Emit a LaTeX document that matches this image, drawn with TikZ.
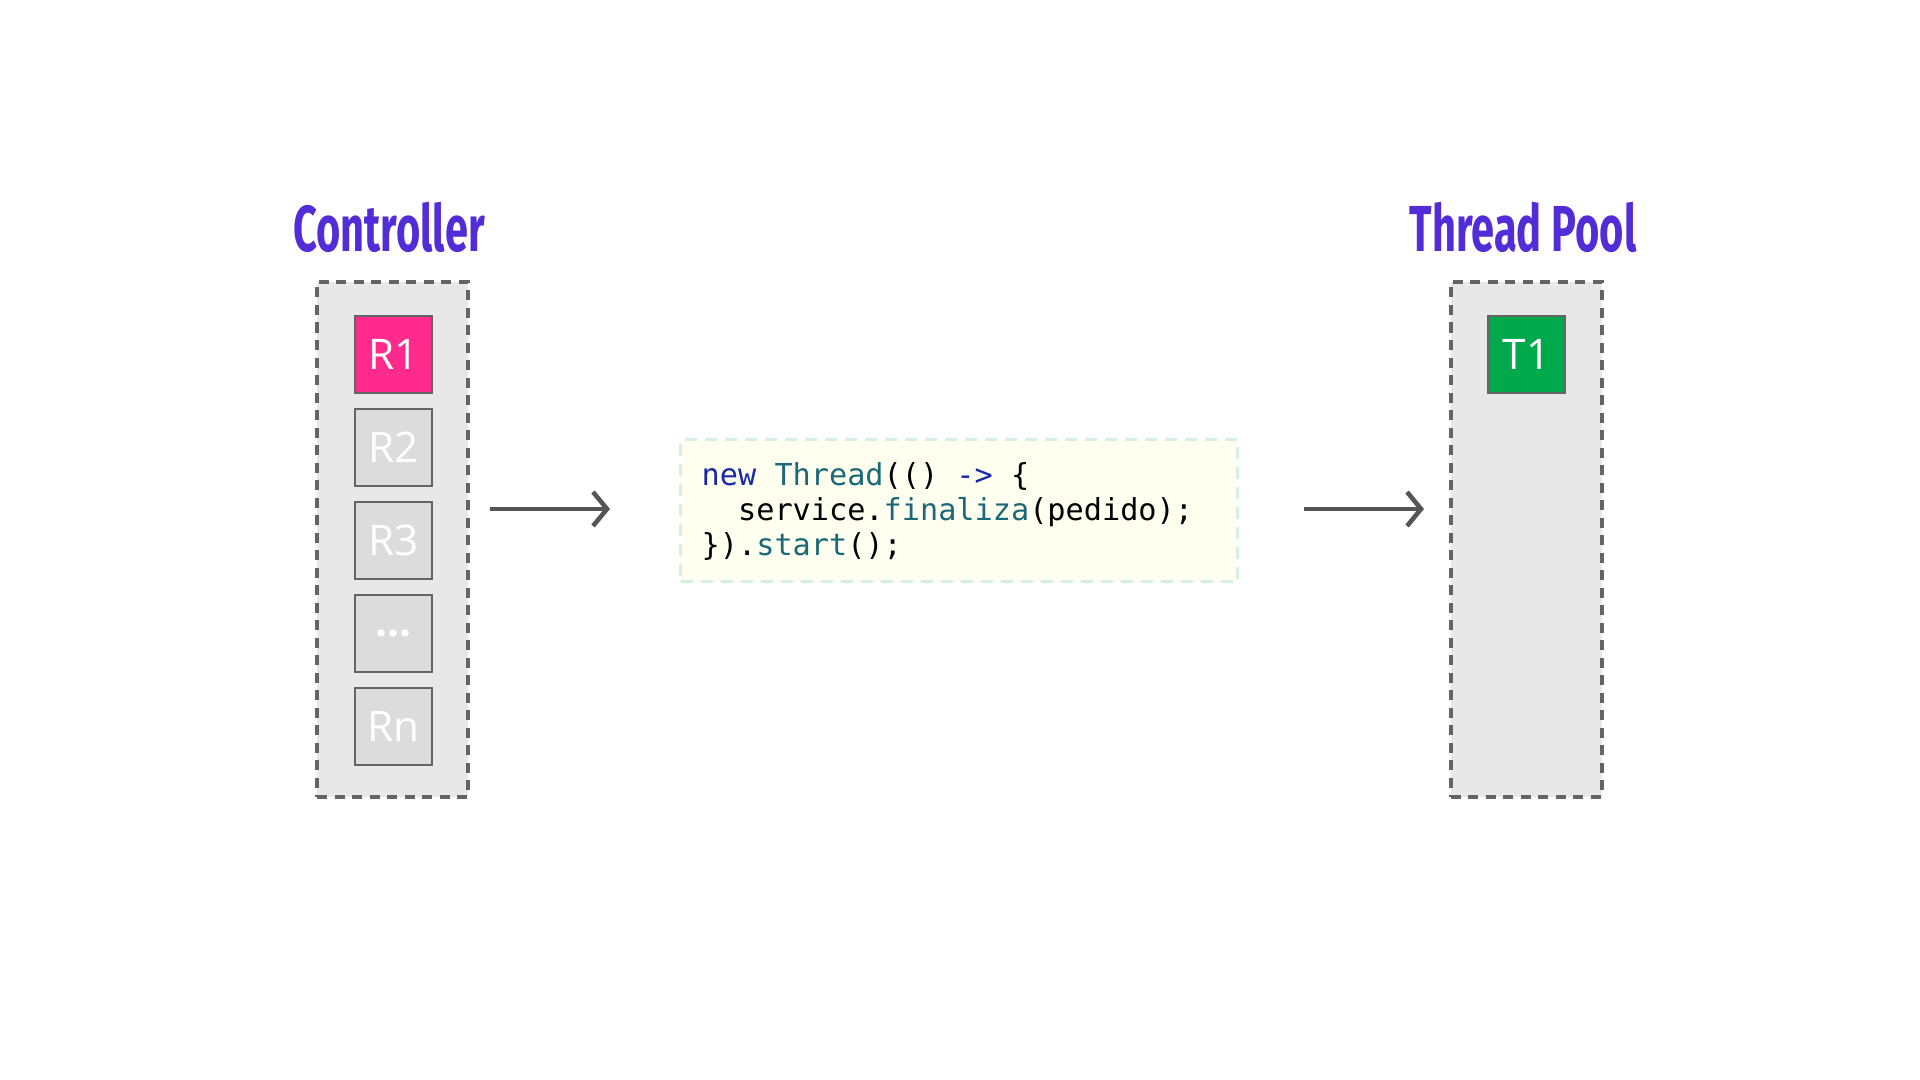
\documentclass[tikz,border=0pt]{standalone}
\usepackage{fontspec}
\setsansfont{Open Sans}
\setmonofont{DejaVu Sans Mono}
\newfontfamily\titlefont[FakeStretch=0.64]{Fira Sans}
\usepackage{tikz}
\usetikzlibrary{arrows.meta,positioning}
\definecolor{titlepurple}{RGB}{82,44,214}
\definecolor{poolgray}{RGB}{232,232,232}
\definecolor{dashgray}{RGB}{100,100,100}
\definecolor{reqgray}{RGB}{220,220,220}
\definecolor{reqpink}{RGB}{255,42,140}
\definecolor{thrgreen}{RGB}{0,170,76}
\definecolor{codefill}{RGB}{255,255,240}
\definecolor{codeborder}{RGB}{212,239,227}
\definecolor{kwblue}{RGB}{24,40,168}
\definecolor{fnteal}{RGB}{28,104,120}
\definecolor{arrowgray}{RGB}{85,85,85}
\begin{document}
\begin{tikzpicture}[
    pool/.style={draw=dashgray, fill=poolgray, line width=1.15pt,
        dash pattern=on 0.10cm off 0.075cm, minimum width=1.51cm, minimum height=5.15cm},
    req/.style={draw=dashgray, fill=reqgray, line width=0.7pt, minimum size=0.77cm,
        inner sep=0pt, text=white, font=\sffamily\fontsize{12}{12}\selectfont},
    title/.style={text=titlepurple, font=\titlefont\bfseries\fontsize{18.5}{19}\selectfont,
        anchor=base, inner sep=0pt},
    flow/.style={draw=arrowgray, line width=1.15pt, -{Straight Barb[length=0.14cm,width=0.34cm,line width=1.3pt]}},
    node distance=0.135cm
]
    \useasboundingbox (0,0) rectangle (19.2,10.8);
    % titles
    \node[title] (ctrltitle) at (3.89,8.28) {Controller};
    \node[title] (pooltitle) at (15.23,8.28) {Thread Pool};
    % controller with requests
    \node[pool] (ctrl) at (3.925,5.405) {};
    \node[req, fill=reqpink] (r1) at (3.935,7.255) {R1};
    \node[req, below=of r1] (r2) {R2};
    \node[req, below=of r2] (r3) {R3};
    \node[req, below=of r3] (rdots) {\textbf{...}};
    \node[req, below=of rdots] (rn) {Rn};
    % code
    \node[draw=codeborder, fill=codefill, line width=0.85pt, dash pattern=on 0.12cm off 0.08cm,
        minimum width=5.57cm, minimum height=1.42cm] (code) at (9.59,5.69) {};
    \node[anchor=west, inner sep=0pt, align=left, xshift=0.22cm,
        font=\ttfamily\fontsize{8.6}{9.96}\selectfont] (codetxt) at (code.west)
        {\textcolor{kwblue}{new} \textcolor{fnteal}{Thread}(() \textcolor{kwblue}{->} \{\\
         \phantom{xx}service.\textcolor{fnteal}{finaliza}(pedido);\\
         \}).\textcolor{fnteal}{start}();};
    % thread pool
    \node[pool] (pool) at (15.26,5.405) {};
    \node[req, fill=thrgreen] (t1) at (15.265,7.255) {T1};
    % arrows
    \coordinate (in1) at (4.90,5.71);
    \coordinate (out1) at (6.10,5.71);
    \coordinate (in2) at (13.04,5.71);
    \coordinate (out2) at (14.24,5.71);
    \draw[flow] (in1) -- (out1);
    \draw[flow] (in2) -- (out2);
\end{tikzpicture}
\end{document}
